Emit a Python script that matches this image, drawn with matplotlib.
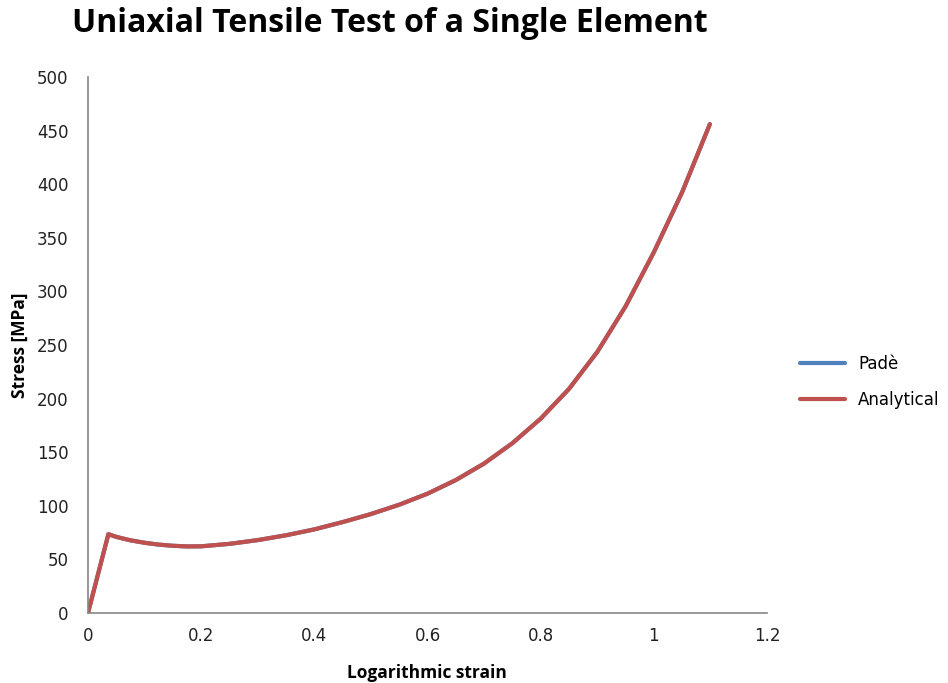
import matplotlib.pyplot as plt

# Stress-strain response of a single element under uniaxial tension
strain = [0.0, 0.036, 0.05, 0.075, 0.10, 0.125, 0.15, 0.175, 0.20, 0.25,
          0.30, 0.35, 0.40, 0.45, 0.50, 0.55, 0.60, 0.65, 0.70, 0.75,
          0.80, 0.85, 0.90, 0.95, 1.00, 1.05, 1.099]
stress_pade = [0.0, 73.5, 71.0, 67.8, 65.5, 63.8, 62.7, 62.1, 62.2, 64.5,
               68.0, 72.5, 78.0, 84.8, 92.3, 101.0, 111.3, 124.0, 139.4, 158.4,
               181.3, 209.0, 243.5, 286.0, 336.5, 392.5, 456.0]
stress_analytical = [0.0, 73.5, 71.0, 67.8, 65.5, 63.8, 62.7, 62.1, 62.2, 64.5,
                     68.0, 72.5, 78.0, 84.8, 92.3, 101.0, 111.3, 124.0, 139.4, 158.4,
                     181.3, 209.0, 243.5, 286.0, 336.5, 392.5, 456.0]

x_ticks = [0, 0.2, 0.4, 0.6, 0.8, 1, 1.2]
x_tick_labels = ["0", "0.2", "0.4", "0.6", "0.8", "1", "1.2"]
y_ticks = [0, 50, 100, 150, 200, 250, 300, 350, 400, 450, 500]

plt.rcParams["font.family"] = ["DejaVu Sans"]
label_font = ["Open Sans", "DejaVu Sans"]

fig = plt.figure(figsize=(9.48, 6.83), dpi=100)
ax = fig.add_axes([88 / 948, 70 / 683, (767 - 88) / 948, (613 - 77) / 683])

ax.plot(strain, stress_pade, color="#4F81BD", linewidth=3, label="Padè",
        solid_capstyle="round", solid_joinstyle="round")
ax.plot(strain, stress_analytical, color="#C0504D", linewidth=3, label="Analytical",
        solid_capstyle="round", solid_joinstyle="round")

ax.set_xlim(0, 1.2)
ax.set_ylim(0, 500)
ax.set_xticks(x_ticks)
ax.set_xticklabels(x_tick_labels)
ax.set_yticks(y_ticks)
ax.tick_params(length=0, labelsize=12, colors="#222222")
ax.tick_params(axis="y", pad=14)
ax.tick_params(axis="x", pad=10)

for side in ["top", "right"]:
    ax.spines[side].set_visible(False)
for side in ["left", "bottom"]:
    ax.spines[side].set_color("#868686")
    ax.spines[side].set_linewidth(1.2)

fig.text(390 / 948, 1 - 24 / 683, "Uniaxial Tensile Test of a Single Element",
         ha="center", va="center", fontsize=23, fontweight="bold", family=label_font)
fig.text(20 / 948, 1 - 345 / 683, "Stress [MPa]", rotation=90,
         ha="center", va="center", fontsize=12.5, fontweight="bold", family=label_font)
fig.text(427 / 948, 1 - 673 / 683, "Logarithmic strain",
         ha="center", va="center", fontsize=12.5, fontweight="bold", family=label_font)

fig.legend(loc="center left", bbox_to_anchor=(785 / 948, 1 - 382 / 683),
           frameon=False, fontsize=12, handlelength=2.7, handletextpad=0.8,
           labelspacing=1.1)

fig.savefig("out.png", dpi=100)
